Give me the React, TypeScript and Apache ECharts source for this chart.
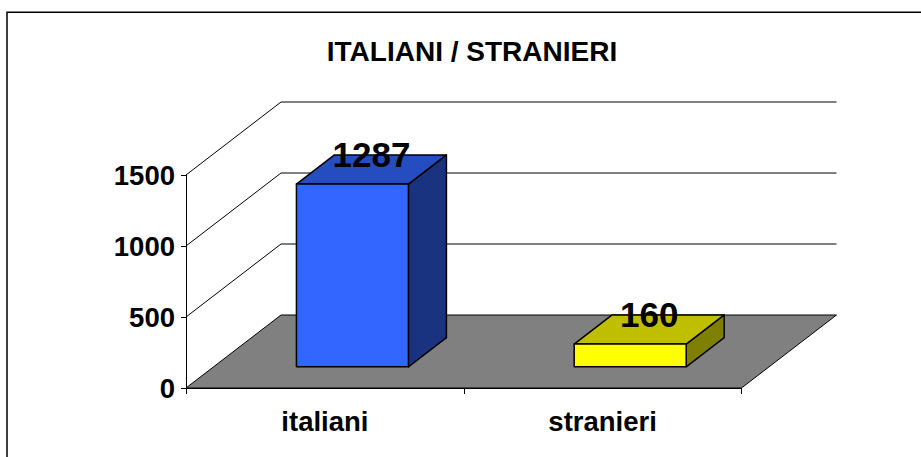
import React, { useEffect, useRef } from "react";
import * as echarts from "echarts";

const TITLE = "ITALIANI / STRANIERI";
const categories = ["italiani", "stranieri"];
const values = [1287, 160];
const frontColors = ["#3366ff", "#ffff00"];
const topColors = ["#264dbf", "#bfbf00"];
const sideColors = ["#1a3380", "#808000"];
const wallTicks = [0, 500, 1000, 1500];

const FONT = '"Liberation Sans", Arial, sans-serif';
const DEPTH_X = 95;
const DEPTH_Y = -73;
const BAR_W = 112;
const BAR_START = 0.29;
const BAR_DEPTH = 0.4;

export default function App() {
  const ref = useRef<HTMLDivElement>(null);
  useEffect(() => {
    const chart = echarts.init(ref.current!, null, { renderer: "svg" });
    const stroke = { stroke: "#000", lineWidth: 1.5, lineJoin: "round" };
    chart.setOption({
      animation: false,
      backgroundColor: "#fff",
      title: {
        text: TITLE,
        left: 467,
        top: 32,
        textAlign: "center",
        textStyle: { fontFamily: FONT, fontSize: 28, fontWeight: "bold", color: "#000" },
      },
      graphic: [
        {
          type: "polyline",
          silent: true,
          shape: { points: [[7, 457], [7, 12.25], [921, 12.25]] },
          style: { stroke: "#000", lineWidth: 1.5, fill: "none" },
        },
      ],
      grid: { left: 186, top: 175, width: 555.5, height: 213, containLabel: false },
      xAxis: {
        type: "category",
        data: categories,
        axisLine: { lineStyle: { color: "#000", width: 1 } },
        axisTick: { show: true, length: 6, lineStyle: { color: "#000" } },
        axisLabel: {
          fontFamily: FONT,
          fontSize: 27.5,
          fontWeight: "bold",
          color: "#000",
          margin: 19,
        },
      },
      yAxis: {
        type: "value",
        min: 0,
        max: 1500,
        interval: 500,
        axisLine: { show: true, lineStyle: { color: "#000", width: 1 } },
        axisTick: { show: true, length: 5, lineStyle: { color: "#000" } },
        splitLine: { show: false },
        axisLabel: {
          fontFamily: FONT,
          fontSize: 27.5,
          fontWeight: "bold",
          color: "#000",
          margin: 11,
          formatter: (v: number) => String(v),
        },
      },
      series: [
        {
          type: "custom",
          silent: true,
          z: 1,
          data: wallTicks.map((v) => [0, v]),
          encode: { x: 0, y: 1 },
          renderItem: (params: any, api: any) => {
            const v = api.value(1);
            const sys = params.coordSys;
            const y = api.coord([0, v])[1];
            const x0 = sys.x;
            const x1 = sys.x + sys.width;
            if (v === 0) {
              return {
                type: "polygon",
                shape: {
                  points: [
                    [x0, y],
                    [x0 + DEPTH_X, y + DEPTH_Y],
                    [x1 + DEPTH_X, y + DEPTH_Y],
                    [x1, y],
                  ],
                },
                style: { fill: "#808080", stroke: "#000", lineWidth: 1 },
              };
            }
            return {
              type: "polyline",
              shape: {
                points: [
                  [x0, y],
                  [x0 + DEPTH_X, y + DEPTH_Y],
                  [x1 + DEPTH_X, y + DEPTH_Y],
                ],
              },
              style: { fill: "none", stroke: "#000", lineWidth: 1 },
            };
          },
        },
        {
          type: "custom",
          silent: true,
          z: 3,
          data: values.map((v, i) => [i, v]),
          encode: { x: 0, y: 1 },
          renderItem: (params: any, api: any) => {
            const i = params.dataIndex;
            const base = api.coord([api.value(0), 0]);
            const top = api.coord([api.value(0), api.value(1)]);
            const l = base[0] + DEPTH_X * BAR_START - BAR_W / 2;
            const r = l + BAR_W;
            const b = base[1] + DEPTH_Y * BAR_START;
            const t = top[1] + DEPTH_Y * BAR_START;
            const dx = DEPTH_X * BAR_DEPTH;
            const dy = DEPTH_Y * BAR_DEPTH;
            return {
              type: "group",
              children: [
                {
                  type: "polygon",
                  shape: { points: [[r, t], [r + dx, t + dy], [r + dx, b + dy], [r, b]] },
                  style: { fill: sideColors[i], ...stroke },
                },
                {
                  type: "polygon",
                  shape: { points: [[l, t], [l + dx, t + dy], [r + dx, t + dy], [r, t]] },
                  style: { fill: topColors[i], ...stroke },
                },
                {
                  type: "polygon",
                  shape: { points: [[l, t], [r, t], [r, b], [l, b]] },
                  style: { fill: frontColors[i], ...stroke },
                },
                {
                  type: "text",
                  style: {
                    text: String(values[i]),
                    x: (l + r + dx) / 2,
                    y: t + dy / 2 - 15,
                    align: "center",
                    verticalAlign: "middle",
                    fontFamily: FONT,
                    fontSize: 35,
                    fontWeight: "bold",
                    fill: "#000",
                  },
                },
              ],
            };
          },
        },
      ],
    });
    return () => chart.dispose();
  }, []);
  return (
    <div
      ref={ref}
      style={{ position: "fixed", left: 0, top: 0, width: 921, height: 457 }}
    />
  );
}
